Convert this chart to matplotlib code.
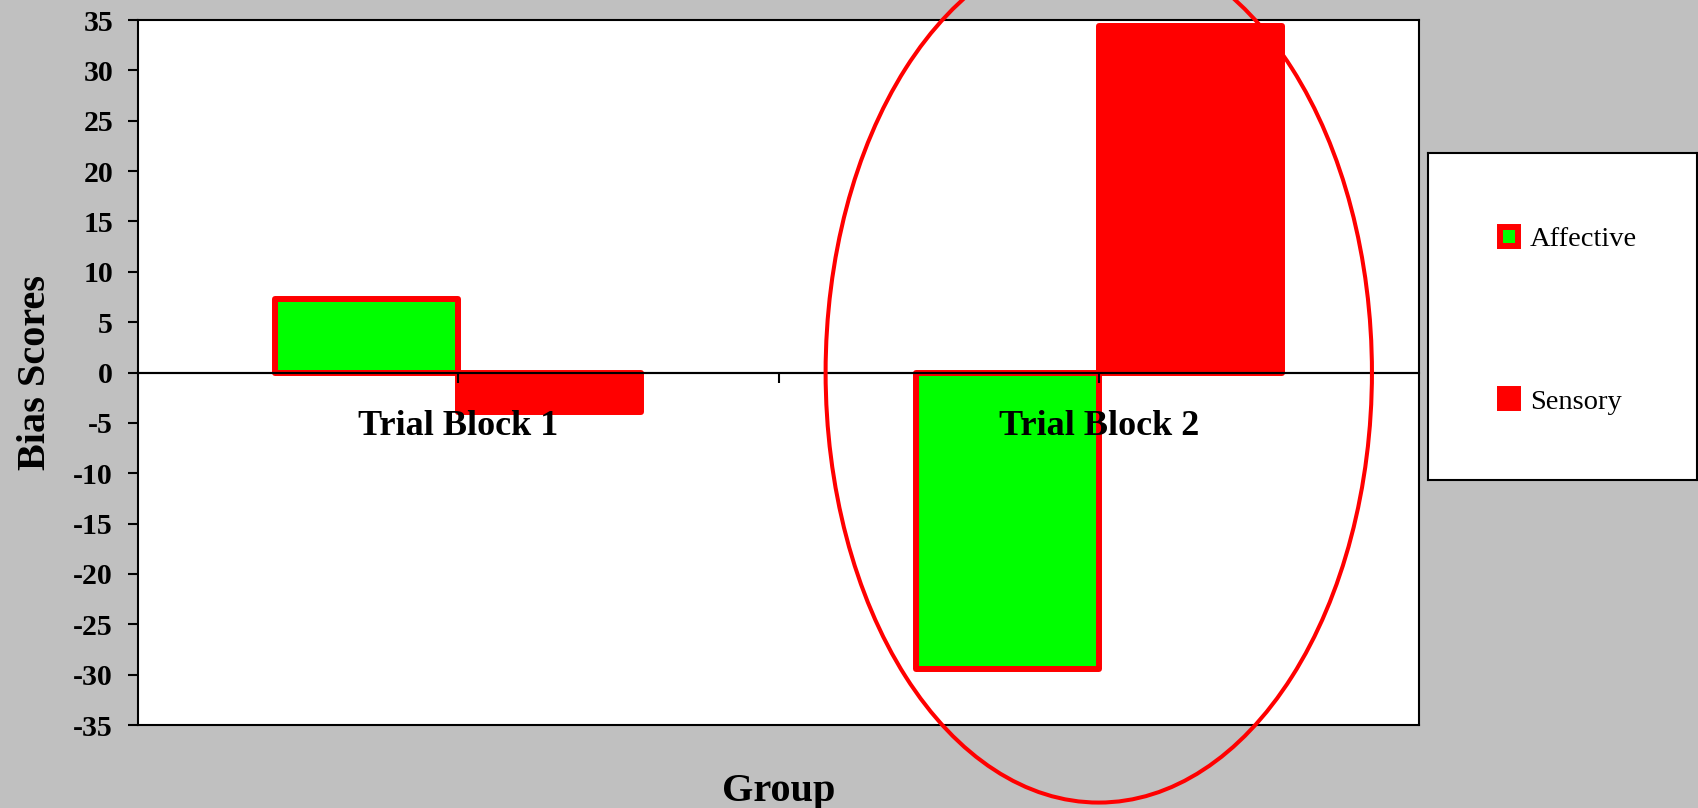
import matplotlib
matplotlib.use("Agg")
import matplotlib.pyplot as plt
from matplotlib.patches import Ellipse
import numpy as np

groups = ["Trial Block 1", "Trial Block 2"]
series = ["Affective", "Sensory"]
affective = [7.3, -29.4]
sensory = [-3.9, 34.4]
y_ticks = list(range(-35, 36, 5))

plt.rcParams["font.family"] = ["Liberation Serif", "DejaVu Serif"]

GREEN = "#00ff00"
RED = "#ff0000"
GREY = "#c0c0c0"

fig = plt.figure(figsize=(16.98, 8.08), dpi=100, facecolor=GREY)
ax = fig.add_axes([0.0813, 0.1027, 0.7544, 0.8725])
ax.set_facecolor("white")

x = np.arange(len(groups))
w = 1 / 3.5  # gap width 150%
b1 = ax.bar(x, affective, width=-w, align="edge", color=GREEN, edgecolor=RED,
            linewidth=4.3, joinstyle="round", label=series[0], zorder=2)
b2 = ax.bar(x, sensory, width=w, align="edge", color=RED, edgecolor=RED,
            linewidth=4.3, joinstyle="round", label=series[1], zorder=2)

ymin, ymax = y_ticks[0], y_ticks[-1]
ax.set_ylim(ymin, ymax)
ax.set_xlim(-0.5, len(groups) - 0.5)
ax.set_yticks(y_ticks)
ax.set_yticklabels([str(t) for t in y_ticks], fontsize=21.5, fontweight="bold")
ax.tick_params(axis="y", direction="out", length=7, width=1.5, pad=11)
ax.set_xticks([])
for s in ax.spines.values():
    s.set_linewidth(1.5)
    s.set_color("black")

# category axis crossing at zero
ax.axhline(0, color="black", lw=1.5, zorder=3)
frac = (0 - ymin) / (ymax - ymin) - 1e-6
sec = ax.secondary_xaxis(frac)
sec.set_zorder(4)
sec.set_xticks([0, 0.5, 1], labels=[groups[0], "", groups[1]])
sec.tick_params(direction="out", length=7, width=1.5, pad=20)
for lbl in sec.get_xticklabels():
    lbl.set_fontsize(26)
    lbl.set_fontweight("bold")
sec.spines["bottom"].set_linewidth(1.5)

ax.set_ylabel("Bias Scores", fontsize=29, fontweight="bold")
ax.yaxis.set_label_coords(-0.066, 0.5)
ax.set_xlabel("Group", fontsize=29, fontweight="bold")
ax.xaxis.set_label_coords(0.5, -0.068)

# highlight around the second block
ell = Ellipse((1, 0), 0.853, 85.4, fill=False, ec=RED, lw=2.9,
              clip_on=False, zorder=5)
ax.add_patch(ell)

lax = fig.add_axes([0.841, 0.406, 0.1584, 0.4047])
lax.set_facecolor("white")
lax.set_xticks([])
lax.set_yticks([])
for s in lax.spines.values():
    s.set_linewidth(1.5)
    s.set_color("black")
lax.legend([b1, b2], series, loc="center", frameon=False, fontsize=20.5,
           handlelength=0.65, handleheight=0.65, handletextpad=0.4,
           labelspacing=4.8, bbox_to_anchor=(0.522, 0.487))

fig.savefig("out.png", dpi=100, facecolor=GREY)
